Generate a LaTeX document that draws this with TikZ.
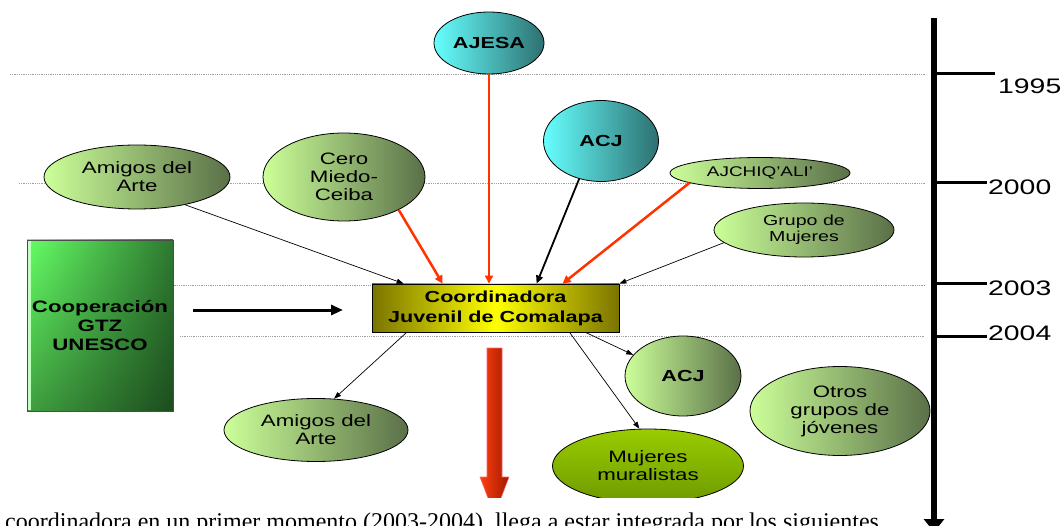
\documentclass[tikz,border=0pt]{standalone}
\usepackage{fontspec}
\setmainfont{Liberation Sans}[FakeStretch=1.35]
\newfontfamily\bodyserif{Liberation Serif}
\usetikzlibrary{shapes.geometric,arrows.meta,calc}
\definecolor{lgL}{HTML}{CCFF99}
\definecolor{lgR}{HTML}{5A7048}
\definecolor{cyL}{HTML}{66FFFF}
\definecolor{cyR}{HTML}{2E7070}
\definecolor{redc}{HTML}{FF3300}
\definecolor{olv}{HTML}{7A7400}
\definecolor{ylw}{HTML}{FFFF00}
\definecolor{grL}{HTML}{66FF66}
\definecolor{grR}{HTML}{2E7A30}
\definecolor{muT}{HTML}{9ACC00}
\definecolor{muB}{HTML}{6E9A00}
\definecolor{arL}{HTML}{FF4010}
\definecolor{arR}{HTML}{A01800}
\tikzset{
  org/.style={ellipse, draw=black, line width=0.8pt, inner sep=0pt, align=center,
    left color=lgL, right color=lgR, font=\fontsize{16.5}{18}\selectfont},
  orgc/.style={org, left color=cyL, right color=cyR, font=\bfseries\fontsize{16}{18}\selectfont},
  redarr/.style={draw=redc, line width=2.5pt, -{Triangle[length=8pt,width=8pt]}},
  thinarr/.style={draw=black, line width=0.7pt, -{Triangle[length=7pt,width=5pt]}},
  dotline/.style={draw=gray!75, line width=0.8pt, densely dotted},
  tick/.style={draw=black, line width=3pt},
  year/.style={anchor=west, inner sep=0pt, font=\fontsize{21}{24}\selectfont}
}
\begin{document}
\begin{tikzpicture}[x=1pt,y=-1pt]
\useasboundingbox (0,0) rectangle (1064,526);
\clip (0,0) rectangle (1064,526);
% dotted guide lines
\draw[dotline] (10,74) -- (925,74);
\draw[dotline] (19,183) -- (925,183);
\draw[dotline] (170,285) -- (925,285);
\draw[dotline] (180,336) -- (925,336);

% central box
\node[draw=black, line width=0.8pt, minimum width=247pt, minimum height=48pt, inner sep=0pt,
  left color=olv, right color=olv, middle color=ylw, align=center,
  font=\bfseries\fontsize{16}{20}\selectfont] (coord) at (495.5,308) {Coordinadora\\Juvenil de Comalapa};

% cooperation box
\shade[left color=grL, right color=grR] (27,240) rectangle (173,411);
\shade[top color=white, bottom color=gray!75, blend mode=multiply] (27,240) rectangle (173,411);
\fill[white!60!grL] (28,241) rectangle (31,410);
\node[draw=black!70, line width=0.8pt, minimum width=146pt, minimum height=171pt, inner sep=0pt,
  align=center, font=\bfseries\fontsize{16.5}{19}\selectfont] (coop) at (100,325.5) {Cooperación\\GTZ\\UNESCO};

% organisations
\node[orgc, minimum width=110pt, minimum height=62pt] (ajesa) at (489,43) {AJESA};
\node[orgc, minimum width=115pt, minimum height=81pt] (acjt) at (601,141) {ACJ};
\node[org, minimum width=186pt, minimum height=64pt] (amigost) at (137,177) {Amigos del\\Arte};
\node[org, minimum width=162pt, minimum height=88pt] (cero) at (344,177) {Cero\\Miedo-\\Ceiba};
\node[org, minimum width=180pt, minimum height=31pt, font=\fontsize{14}{16}\selectfont] (ajch) at (760,173) {AJCHIQ’ALI’};
\node[org, minimum width=180pt, minimum height=54pt, font=\fontsize{14.5}{16.5}\selectfont] (grupo) at (804,230) {Grupo de\\Mujeres};

\node[org, minimum width=184pt, minimum height=63pt] (amigosb) at (316,430) {Amigos del\\Arte};
\node[org, minimum width=116pt, minimum height=80pt, font=\bfseries\fontsize{16}{18}\selectfont] (acjb) at (683,376) {ACJ};
\node[org, minimum width=180pt, minimum height=89pt] (otros) at (840,411) {Otros\\grupos de\\jóvenes};
\node[org, minimum width=191pt, minimum height=74pt, top color=muT, bottom color=muB] (muj) at (648,466) {Mujeres\\muralistas};

% connectors into the box
\coordinate (in1) at ($(coord.north west)+(32,0)$);
\coordinate (in2) at ($(coord.north west)+(71,0)$);
\coordinate (in4) at ($(coord.north west)+(165,0)$);
\coordinate (in5) at ($(coord.north west)+(191,0)$);
\draw[thinarr] (amigost.-30) -- (in1);
\draw[redarr] (cero.-31) -- (in2);
\draw[redarr] (ajesa.south) -- (ajesa.south |- coord.north);
\draw[draw=black, line width=1.8pt, -{Triangle[length=8pt,width=7pt]}] (acjt.-120) -- (in4);
\draw[redarr] (ajch.-172) -- (in5);
\draw[thinarr] (grupo.-171) -- (coord.north east);

% connectors out of the box
\coordinate (out1) at ($(coord.south west)+(35,0)$);
\coordinate (out2) at ($(coord.south west)+(198,0)$);
\coordinate (out3) at ($(coord.south west)+(214,0)$);
\draw[thinarr] (out1) -- (amigosb.60);
\draw[thinarr] (out2) -- (muj.103);
\draw[thinarr] (out3) -- (acjb.157);

% cooperation arrow
\coordinate (ca1) at (193,310);
\coordinate (ca2) at (343,310);
\draw[line width=3pt, -{Triangle[length=12pt,width=10pt]}] (ca1) -- (ca2);

% big red arrow
\path[draw=red!60, line width=0.6pt, left color=arL, right color=arR]
  (487,348) -- (502,348) -- (502,477) -- (509,477) -- (494.5,515) -- (480,477) -- (487,477) -- cycle;

% caption strip
\fill[white] (0,498) rectangle (920,526);
\node[anchor=base west, inner sep=0pt, font=\bodyserif\fontsize{24}{28}\selectfont] (caption) at (5,529)
  {coordinadora en un primer momento (2003-2004), llega a estar integrada por los siguientes};

% timeline
\coordinate (ttop) at (934,18);
\coordinate (tbot) at (934,532);
\draw[line width=6pt, -{Triangle[length=13pt,width=20pt]}] (ttop) -- (tbot);
\coordinate (y1) at (995,74);
\coordinate (y2) at (987,183);
\coordinate (y3) at (987,284);
\coordinate (y4) at (987,336);
\draw[tick] (ttop |- y1) -- (y1);
\draw[tick] (ttop |- y2) -- (y2);
\draw[tick] (ttop |- y3) -- (y3);
\draw[tick] (ttop |- y4) -- (y4);
\node[year] (l1) at (998,86) {1995};
\node[year] (l2) at (988,187) {2000};
\node[year] (l3) at (988,288) {2003};
\node[year] (l4) at (988,333) {2004};
\end{tikzpicture}
\end{document}
